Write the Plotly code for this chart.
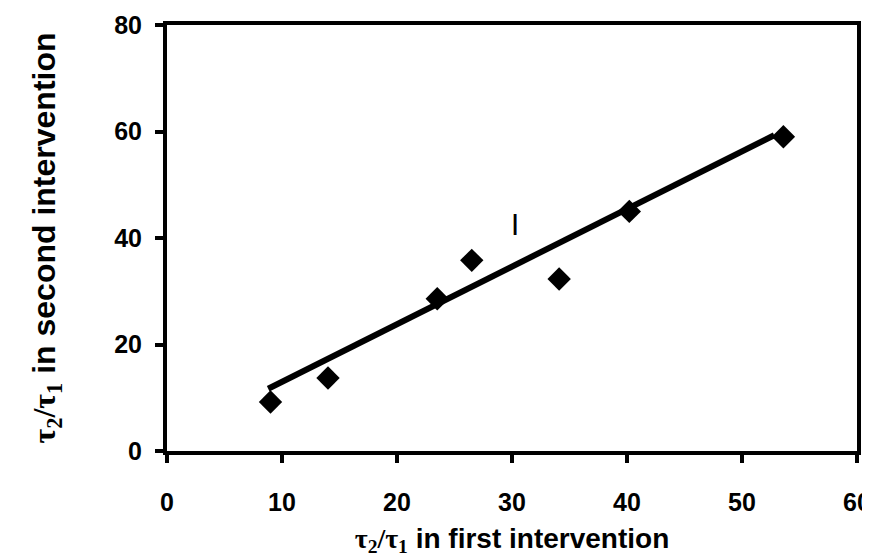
import plotly.graph_objects as go

# Data
first_intervention = [9.0, 14.0, 23.5, 26.5, 34.1, 40.2, 53.6]
second_intervention = [9.2, 13.7, 28.6, 35.8, 32.3, 45.0, 59.0]

# Trend line endpoints
trend_x = [8.8, 52.8]
trend_y = [11.7, 59.3]

x_ticks = [0, 10, 20, 30, 40, 50, 60]
y_ticks = [0, 20, 40, 60, 80]

TAU = '<span style="font-family:\'Liberation Serif\'">τ<sub>2</sub>/τ<sub>1</sub></span>'

fig = go.Figure()
fig.add_trace(go.Scatter(
    x=trend_x, y=trend_y, mode="lines",
    line=dict(color="black", width=6), showlegend=False, hoverinfo="skip"))
fig.add_trace(go.Scatter(
    x=first_intervention, y=second_intervention, mode="markers",
    marker=dict(symbol="diamond", size=18, color="black"), showlegend=False))

fig.add_annotation(x=30.3, y=43, text="|", showarrow=False,
                   font=dict(family="Liberation Sans", size=22, color="black", weight="bold"))

axis_common = dict(
    showgrid=False, zeroline=False, showline=True, linecolor="black", linewidth=4,
    mirror=True, ticks="outside", ticklen=8, tickwidth=4, tickcolor="black",
    automargin=False,
    tickfont=dict(family="Liberation Sans", size=25, color="black", weight="bold"),
)

fig.update_xaxes(range=[0, 60], tickvals=x_ticks, ticklabelstandoff=18,
                 title=dict(text=TAU + " in first intervention", standoff=14,
                            font=dict(family="Liberation Sans", size=28, color="black", weight="bold")),
                 **axis_common)
fig.update_yaxes(range=[0, 80], tickvals=y_ticks, ticklabelstandoff=8,
                 title=dict(text=TAU + " in second intervention", standoff=50,
                            font=dict(family="Liberation Sans", size=32, color="black", weight="bold")),
                 **axis_common)

fig.update_layout(
    width=870, height=558,
    margin=dict(l=159, r=21, t=17, b=115),
    plot_bgcolor="white", paper_bgcolor="white",
)

fig.write_html("out.html")
